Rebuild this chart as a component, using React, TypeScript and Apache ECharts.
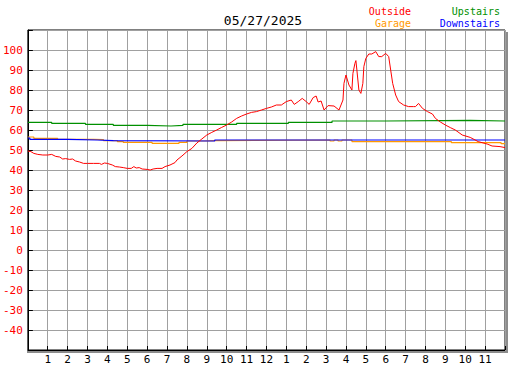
import React, { useEffect, useRef } from "react";
import * as echarts from "echarts";

const title = "05/27/2025";

const outsideHours = [0, 0.15, 0.3, 0.5, 0.75, 1.0, 1.2, 1.4, 1.6, 1.75, 1.9, 2.1, 2.25, 2.4, 2.6, 2.8, 3.0, 3.3, 3.6, 3.7, 3.85, 4.0, 4.25, 4.4, 4.6, 4.8, 5.0, 5.2, 5.33, 5.45, 5.6, 5.75, 6.0, 6.15, 6.3, 6.5, 6.75, 6.9, 7.15, 7.4, 7.5, 7.75, 8.0, 8.25, 8.5, 8.75, 9.0, 9.25, 9.5, 9.75, 10.0, 10.25, 10.5, 10.75, 11.0, 11.25, 11.5, 11.75, 12.0, 12.25, 12.5, 12.75, 13.0, 13.25, 13.4, 13.6, 13.8, 14.0, 14.15, 14.35, 14.5, 14.6, 14.75, 14.9, 15.1, 15.4, 15.65, 15.85, 15.9, 16.0, 16.15, 16.3, 16.35, 16.45, 16.5, 16.55, 16.6, 16.65, 16.75, 16.85, 16.9, 17.0, 17.15, 17.3, 17.5, 17.65, 17.8, 18.0, 18.15, 18.25, 18.35, 18.5, 18.65, 18.9, 19.15, 19.4, 19.5, 19.65, 19.85, 20.1, 20.35, 20.5, 20.75, 21.0, 21.25, 21.5, 21.85, 22.25, 22.65, 23.1, 23.35, 23.75, 24.0];
const outsideTemps = [49.5, 49.2, 48.3, 47.8, 47.5, 47.5, 47.8, 46.8, 46.5, 45.5, 45.7, 45.3, 45.5, 44.5, 44.0, 43.3, 43.3, 43.3, 43.3, 42.8, 43.5, 43.3, 42.5, 41.7, 41.5, 41.2, 40.8, 40.8, 41.7, 41.0, 41.2, 40.5, 40.3, 40.0, 40.5, 40.8, 40.8, 41.7, 42.5, 43.7, 45, 47, 49.2, 50.8, 53.5, 55.5, 57.5, 58.8, 60, 61.3, 62.5, 64, 65.8, 67, 68, 68.8, 69.2, 70, 70.8, 71.5, 72.5, 72.5, 74.2, 75, 72.8, 74.2, 75.8, 74.2, 72.8, 76.2, 77, 74, 74.5, 70, 72.2, 72, 70, 75, 83.3, 87.5, 82.5, 80, 88.3, 93.3, 94.7, 90, 85, 80, 78.3, 83.3, 91.7, 95.8, 98, 98, 99.2, 96.7, 96.7, 98.3, 96.7, 90, 83.3, 77.5, 74.2, 72.5, 71.7, 71.7, 71.7, 73.3, 70.8, 69.2, 68, 65.8, 64, 62.5, 61.2, 60, 57.5, 56.3, 54.2, 53, 52, 51.7, 51.2];

const upstairsHours = [0, 1.2, 2.9, 4.3, 6.0, 7.2, 7.8, 10.5, 13.1, 15.3, 18.0, 22.25, 24];
const upstairsTemps = [63.8, 63.3, 62.8, 62.3, 62.0, 62.3, 62.8, 63.3, 63.8, 64.5, 64.8, 64.5, 64.5];

const downstairsHours = [0, 0.1, 2.0, 3.5, 4.3, 9.4, 24];
const downstairsTemps = [56.0, 55.3, 55.0, 54.7, 54.5, 55.0, 55.0];

const garageHours = [0, 0.3, 1.5, 3.3, 3.8, 4.5, 4.8, 6.25, 7.6, 8.0, 8.8, 9.4, 15.2, 15.4, 15.6, 15.8, 16.3, 21.3, 23.8, 24];
const garageTemps = [56.5, 55.8, 55.3, 55.2, 54.7, 54.2, 53.8, 53.3, 53.8, 54.5, 54.7, 55.0, 54.5, 55.0, 54.5, 55.0, 54.2, 53.7, 53.2, 53.2];

const legendNames = ["Outside", "Garage", "Upstairs", "Downstairs"];
const colors = { Outside: "#ff0000", Garage: "#ff9900", Upstairs: "#009000", Downstairs: "#0000ff" };

const pairs = (xs: number[], ys: number[]) => xs.map((x, i) => [x, ys[i]]);

const MONO = "'DejaVu Sans Mono', monospace";

export default function App() {
  const ref = useRef<HTMLDivElement>(null);
  useEffect(() => {
    if (!ref.current) return;
    const chart = echarts.init(ref.current, null, { renderer: "svg" });
    chart.setOption({
      animation: false,
      backgroundColor: "#ffffff",
      grid: { left: 25, top: 30, width: 480, height: 320, show: true, borderColor: "#000", borderWidth: 1 },
      xAxis: {
        type: "value",
        min: 0,
        max: 24,
        interval: 1,
        axisLine: { onZero: false, lineStyle: { color: "#000", width: 1 } },
        axisTick: { inside: true, length: 4, lineStyle: { color: "#000", width: 1 } },
        axisLabel: {
          color: "#000",
          fontFamily: MONO,
          fontSize: 11,
          margin: 4,
          formatter: (v: number) => (v === 0 || v === 24 ? "" : String(v > 12 ? v - 12 : v)),
        },
        splitLine: { lineStyle: { color: "#a0a0a0", width: 1 } },
      },
      yAxis: {
        type: "value",
        min: -50,
        max: 110,
        interval: 10,
        axisLine: { onZero: false, lineStyle: { color: "#000", width: 1 } },
        axisTick: { inside: true, length: 5, lineStyle: { color: "#000", width: 1 } },
        axisLabel: {
          color: "#ff0000",
          fontFamily: MONO,
          fontSize: 11,
          margin: 5,
          formatter: (v: number) => (v === -50 || v === 110 ? "" : String(v)),
        },
        splitLine: { lineStyle: { color: "#a0a0a0", width: 1 } },
      },
      series: [
        { name: "Garage", type: "line", step: "end", showSymbol: false, data: pairs(garageHours, garageTemps), lineStyle: { color: colors.Garage, width: 1.2 }, z: 2 },
        { name: "Upstairs", type: "line", step: "end", showSymbol: false, data: pairs(upstairsHours, upstairsTemps), lineStyle: { color: colors.Upstairs, width: 1.2 }, z: 3 },
        { name: "Downstairs", type: "line", step: "end", showSymbol: false, data: pairs(downstairsHours, downstairsTemps), lineStyle: { color: colors.Downstairs, width: 1.2 }, z: 4 },
        { name: "Outside", type: "line", showSymbol: false, data: pairs(outsideHours, outsideTemps), lineStyle: { color: colors.Outside, width: 1 }, z: 5 },
      ],
      graphic: [
        { type: "rect", shape: { x: 27, y: 351, width: 481, height: 2 }, style: { fill: "#8c8c8c" }, silent: true },
        { type: "rect", shape: { x: 506, y: 32, width: 2, height: 321 }, style: { fill: "#8c8c8c" }, silent: true },
        { type: "text", x: 263, y: 20, style: { text: title, font: `13px ${MONO}`, fill: "#000", textAlign: "center", textVerticalAlign: "middle" } },
        { type: "text", x: 411, y: 11, style: { text: legendNames[0], font: `10px ${MONO}`, fill: colors.Outside, textAlign: "right", textVerticalAlign: "middle" } },
        { type: "text", x: 411, y: 23, style: { text: legendNames[1], font: `10px ${MONO}`, fill: colors.Garage, textAlign: "right", textVerticalAlign: "middle" } },
        { type: "text", x: 500, y: 11, style: { text: legendNames[2], font: `10px ${MONO}`, fill: colors.Upstairs, textAlign: "right", textVerticalAlign: "middle" } },
        { type: "text", x: 500, y: 23, style: { text: legendNames[3], font: `10px ${MONO}`, fill: colors.Downstairs, textAlign: "right", textVerticalAlign: "middle" } },
      ],
    });
    return () => chart.dispose();
  }, []);
  return <div ref={ref} style={{ position: "fixed", left: 0, top: 0, width: 527, height: 370, background: "#fff" }} />;
}
